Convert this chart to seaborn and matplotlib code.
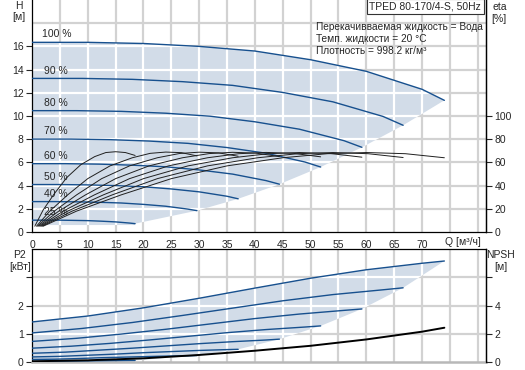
import numpy as np
import pandas as pd
import matplotlib
matplotlib.use("Agg")
import matplotlib.pyplot as plt
import seaborn as sns

# ===================== DATA =====================
speeds = ["100 %", "90 %", "80 %", "70 %", "60 %", "50 %", "40 %", "25 %"]

# H(Q), one list per speed
q_head = [
    [0, 10, 20, 30, 40, 50, 60, 70, 74],
    [0, 9, 18, 27, 36, 45, 54, 63, 66.6],
    [0, 8, 16, 24, 32, 40, 48, 56, 59.2],
    [0, 7, 14, 21, 28, 35, 42, 49, 51.8],
    [0, 6, 12, 18, 24, 30, 36, 42, 44.4],
    [0, 5, 10, 15, 20, 25, 30, 35, 37],
    [0, 4, 8, 12, 16, 20, 24, 28, 29.6],
    [0, 2.5, 5, 7.5, 10, 12.5, 15, 17.5, 18.5],
]
head = [
    [16.35, 16.35, 16.25, 16.0, 15.6, 14.85, 13.85, 12.3, 11.35],
    [13.24, 13.24, 13.16, 12.96, 12.64, 12.03, 11.22, 9.96, 9.2],
    [10.46, 10.46, 10.4, 10.24, 9.98, 9.5, 8.86, 7.87, 7.3],
    [8.01, 8.01, 7.96, 7.84, 7.64, 7.28, 6.79, 6.03, 5.6],
    [5.89, 5.89, 5.85, 5.76, 5.62, 5.35, 4.99, 4.43, 4.12],
    [4.09, 4.09, 4.06, 4.0, 3.9, 3.71, 3.46, 3.08, 2.86],
    [2.62, 2.62, 2.6, 2.56, 2.5, 2.38, 2.22, 1.97, 1.84],
    [1.02, 1.02, 1.02, 1.0, 0.98, 0.93, 0.87, 0.77, 0.72],
]

# eta(Q) [%], one list per speed
q_eta = [
    [2, 8, 16, 25, 35, 45, 53, 60, 67, 74],
    [1.8, 7.2, 14.4, 22.5, 31.5, 40.5, 47.7, 54, 60.3, 66.6],
    [1.6, 6.4, 12.8, 20, 28, 36, 42.4, 48, 53.6, 59.2],
    [1.4, 5.6, 11.2, 17.5, 24.5, 31.5, 37.1, 42, 46.9, 51.8],
    [1.2, 4.8, 9.6, 15, 21, 27, 31.8, 36, 40.2, 44.4],
    [1, 4, 8, 12.5, 17.5, 22.5, 26.5, 30, 33.5, 37],
    [0.8, 3.2, 6.4, 10, 14, 18, 21.2, 24, 26.8, 29.6],
    [0.5, 2, 4, 6.25, 8.75, 11.25, 13.25, 15, 16.75, 18.5],
]
eta = [
    [5, 18, 32, 46, 57, 64, 67.5, 68.5, 67.5, 64],
    [5, 18, 32, 46, 57, 64, 67.5, 68.5, 67.5, 64.2],
    [5, 18, 32, 46, 57, 64, 67.5, 68.5, 67.6, 64.5],
    [5, 18, 32, 46, 57, 64, 67.5, 68.6, 67.8, 64.8],
    [5, 18, 32, 46, 57, 64, 67.6, 68.7, 68, 65],
    [5, 18, 32, 46, 57, 64, 67.7, 68.8, 68.2, 65.3],
    [5, 18, 32, 46, 57, 64, 67.8, 68.9, 68.4, 65.6],
    [5, 19, 33, 47, 58, 65, 68.5, 69.2, 68.5, 66],
]

# P2(Q) [kW], one list per speed
p2 = [
    [1.42, 1.63, 1.92, 2.26, 2.62, 2.97, 3.27, 3.5, 3.58],
    [1.03, 1.19, 1.4, 1.65, 1.91, 2.17, 2.39, 2.56, 2.63],
    [0.73, 0.84, 0.99, 1.16, 1.35, 1.54, 1.7, 1.83, 1.88],
    [0.49, 0.56, 0.66, 0.78, 0.91, 1.04, 1.15, 1.24, 1.28],
    [0.31, 0.35, 0.42, 0.49, 0.57, 0.65, 0.72, 0.78, 0.81],
    [0.18, 0.2, 0.24, 0.28, 0.33, 0.37, 0.41, 0.44, 0.45],
    [0.09, 0.1, 0.12, 0.15, 0.17, 0.19, 0.21, 0.22, 0.23],
    [0.02, 0.025, 0.03, 0.035, 0.04, 0.046, 0.051, 0.055, 0.056],
]

# NPSH(Q) [m]
q_npsh = [0, 10, 20, 30, 40, 50, 60, 70, 74]
npsh = [0.05, 0.12, 0.26, 0.5, 0.8, 1.15, 1.6, 2.15, 2.43]

BLUE = "#17508e"
FILL = "#d2dce8"
GRID = "#d2d2d2"
FS = 7.5


def long_df(qs, ys, name):
    rows = []
    for sp, q, y in zip(speeds, qs, ys):
        for a, b in zip(q, y):
            rows.append({"speed": sp, "Q": a, name: b})
    return pd.DataFrame(rows)


df_h = long_df(q_head, head, "H")
df_e = long_df(q_eta, eta, "eta")
df_p = long_df(q_head, p2, "P2")
df_n = pd.DataFrame({"Q": q_npsh, "NPSH": npsh})

sns.set_theme(style="white")
plt.rcParams["font.family"] = ["Liberation Sans", "DejaVu Sans"]
plt.rcParams["font.size"] = FS

fig = plt.figure(figsize=(5.25, 3.7), dpi=100)
ax = fig.add_axes([0.061, 0.373, 0.865, 0.627])
ax3 = fig.add_axes([0.061, 0.0216, 0.865, 0.305])

XMAX = 81.5
xgrid = np.arange(5, 85, 5)


def draw_grid(a, ys, poly):
    for xv in xgrid:
        a.axvline(xv, color=GRID, lw=1.6, zorder=0.5)
        w = a.axvline(xv, color="white", lw=1.6, zorder=1.5)
        w.set_clip_path(poly)
    for yv in ys:
        a.axhline(yv, color=GRID, lw=1.6, zorder=0.5)
        w = a.axhline(yv, color="white", lw=1.6, zorder=1.5)
        w.set_clip_path(poly)


def style_ticks(a):
    a.tick_params(direction="out", length=4, width=0.8, labelsize=FS, pad=2)


# ===================== TOP: H + eta =====================
ends_q = [q[-1] for q in q_head]
poly_q = list(q_head[0]) + ends_q[1:] + [0]
poly_h = list(head[0]) + [h[-1] for h in head[1:]] + [0.6]
poly_q = poly_q[:-1] + [ends_q[-1], 0]
poly_h = poly_h[:-1] + [0.6, 0.6]
patch = ax.fill(poly_q, poly_h, color=FILL, lw=0, zorder=1)[0]
draw_grid(ax, np.arange(2, 20, 2), patch)

sns.lineplot(data=df_h, x="Q", y="H", units="speed", estimator=None,
             sort=False, color=BLUE, lw=1.0, ax=ax, legend=False, zorder=3)
for sp, h in zip(speeds, head):
    ax.text(1.8 if sp == "100 %" else 2.2, h[0] + 0.68, sp,
            fontsize=FS, va="center", ha="left", zorder=4)

ax.set_xlim(0, XMAX)
ax.set_ylim(0, 20)
ax.set_xticks(np.arange(0, 75, 5))
ax.set_yticks(np.arange(0, 18, 2))
ax.set_xlabel("")
ax.set_ylabel("")
style_ticks(ax)
for s in ["left", "bottom", "right"]:
    ax.spines[s].set_color("black")
    ax.spines[s].set_linewidth(0.9)
ax.spines["top"].set_visible(False)
ax.text(77.4, -0.045, "Q [м³/ч]", transform=ax.get_xaxis_transform(),
        ha="center", va="center", fontsize=FS)

ax2 = ax.twinx()
sns.lineplot(data=df_e, x="Q", y="eta", units="speed", estimator=None,
             sort=False, color="#202020", lw=0.7, ax=ax2, legend=False)
ax2.set_ylim(0, 200)
ax2.set_yticks(np.arange(0, 120, 20))
ax2.set_ylabel("")
style_ticks(ax2)
for s in ["top", "left", "bottom"]:
    ax2.spines[s].set_visible(False)
ax2.spines["right"].set_color("black")
ax2.spines["right"].set_linewidth(0.9)

# ===================== BOTTOM: P2 + NPSH =====================
pq = list(q_head[0]) + ends_q[1:] + [0]
pp = list(p2[0]) + [p[-1] for p in p2[1:]] + [p2[-1][0]]
patch2 = ax3.fill(pq, pp, color=FILL, lw=0, zorder=1)[0]
draw_grid(ax3, [1, 2, 3], patch2)

sns.lineplot(data=df_p, x="Q", y="P2", units="speed", estimator=None,
             sort=False, color=BLUE, lw=1.0, ax=ax3, legend=False, zorder=3)
ax3.set_xlim(0, XMAX)
ax3.set_ylim(0, 4)
ax3.set_xticks([])
ax3.set_yticks([0, 1, 2, 3])
ax3.set_yticklabels(["0", "1", "2", ""])
ax3.set_xlabel("")
ax3.set_ylabel("")
style_ticks(ax3)
for s in ["left", "top", "right"]:
    ax3.spines[s].set_color("black")
    ax3.spines[s].set_linewidth(0.9)
ax3.spines["bottom"].set_color("#b8b8b8")
ax3.spines["bottom"].set_linewidth(1.8)

ax4 = ax3.twinx()
sns.lineplot(data=df_n, x="Q", y="NPSH", color="black", lw=1.4, ax=ax4)
ax4.set_ylim(0, 8)
ax4.set_yticks([0, 2, 4, 6])
ax4.set_yticklabels(["0", "2", "4", ""])
ax4.set_ylabel("")
style_ticks(ax4)
for s in ["top", "left", "bottom"]:
    ax4.spines[s].set_visible(False)
ax4.spines["right"].set_color("black")
ax4.spines["right"].set_linewidth(0.9)

# ===================== TEXTS =====================
fig.text(0.81, 0.982, "TPED 80-170/4-S, 50Hz", ha="center", va="center",
         fontsize=FS, bbox=dict(facecolor="white", edgecolor="#333333",
                                lw=0.8, boxstyle="square,pad=0.25"))
info = ["Перекачивваемая жидкость = Вода",
        "Темп. жидкости = 20 °C",
        "Плотность = 998.2 кг/м³"]
for i, t in enumerate(info):
    fig.text(0.602, 0.928 - i * 0.033, t, ha="left", va="center", fontsize=7.3)

fig.text(0.036, 0.984, "H", ha="center", va="center", fontsize=FS)
fig.text(0.036, 0.954, "[м]", ha="center", va="center", fontsize=FS)
fig.text(0.951, 0.981, "eta", ha="center", va="center", fontsize=FS)
fig.text(0.951, 0.949, "[%]", ha="center", va="center", fontsize=FS)
fig.text(0.038, 0.311, "P2", ha="center", va="center", fontsize=FS)
fig.text(0.038, 0.278, "[кВт]", ha="center", va="center", fontsize=FS)
fig.text(0.954, 0.311, "NPSH", ha="center", va="center", fontsize=FS)
fig.text(0.954, 0.278, "[м]", ha="center", va="center", fontsize=FS)

fig.savefig("out.png", dpi=100)
